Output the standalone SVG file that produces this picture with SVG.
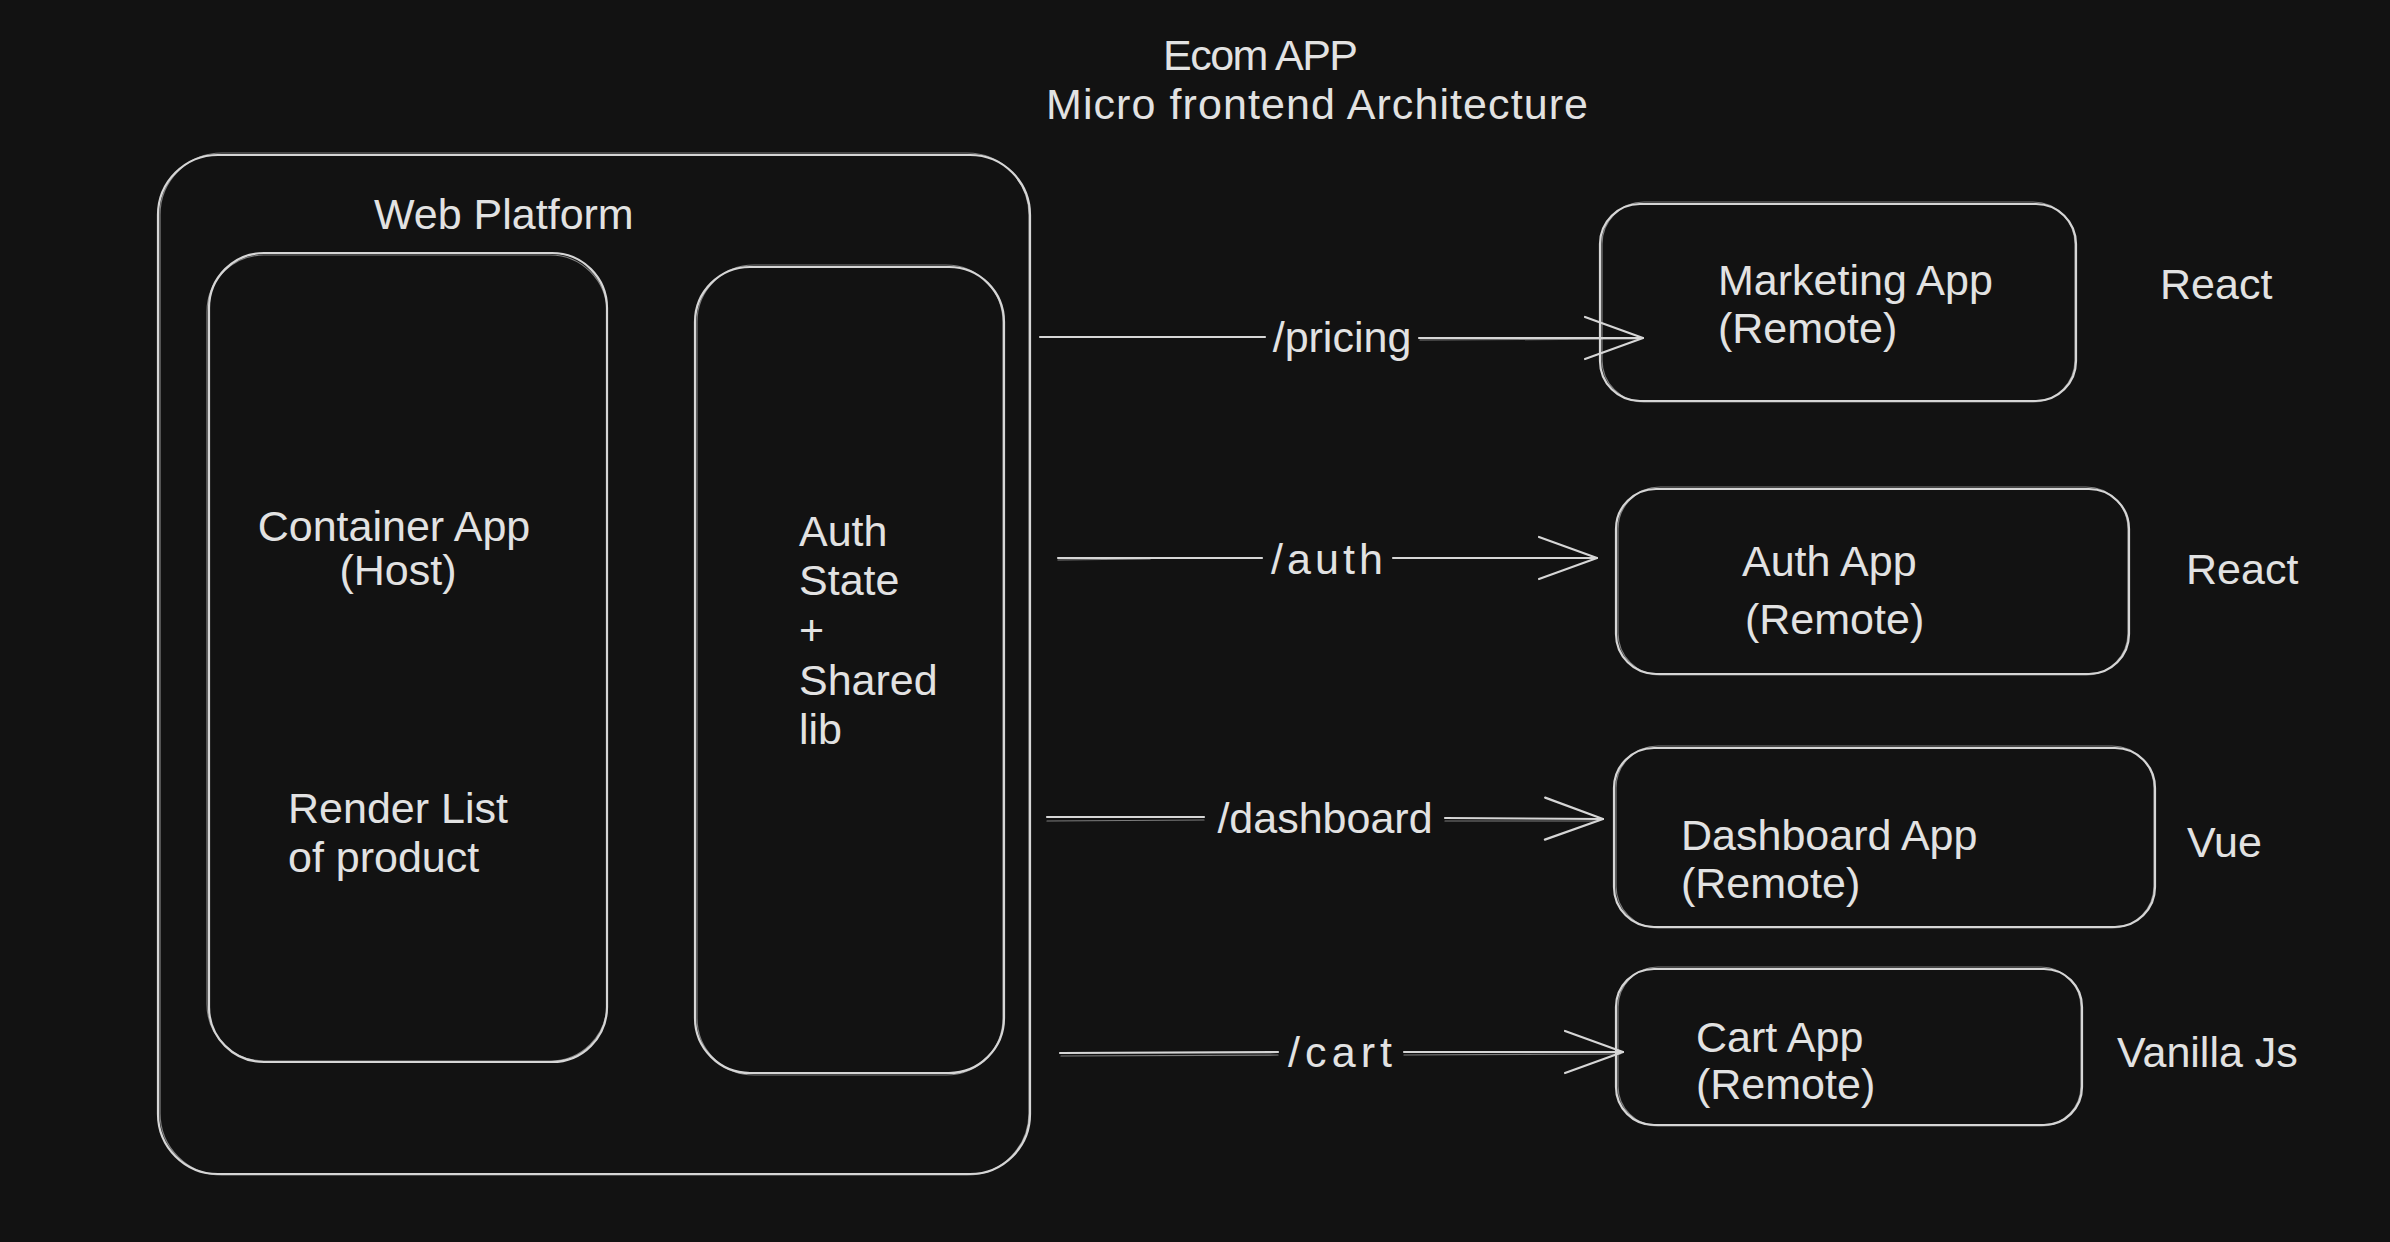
<svg xmlns="http://www.w3.org/2000/svg" width="2390" height="1242" viewBox="0 0 2390 1242">
<defs>
<style>
.bg{fill:#121212}
.box{fill:none;stroke:#d6d6d6;stroke-width:2.2}
.box2{fill:none;stroke:#d6d6d6;stroke-width:1.2;opacity:0.55}
.t{font-family:"Liberation Sans","Open Sans",sans-serif;font-size:43px;fill:#e2e2e2}
.c{text-anchor:middle}
.ln{fill:none;stroke:#d6d6d6;stroke-width:2.2;stroke-linecap:round}
.ln2{fill:none;stroke:#d6d6d6;stroke-width:1.2;opacity:0.55;stroke-linecap:round}
</style>
<marker id="arr" markerUnits="userSpaceOnUse" viewBox="-62 -26 66 52" refX="0" refY="0" markerWidth="66" markerHeight="52" orient="auto">
<path d="M -58 -21 L 0 0 L -58 21" fill="none" stroke="#d6d6d6" stroke-width="2.2" stroke-linecap="round" stroke-linejoin="round"/>
</marker>
</defs>
<rect class="bg" x="0" y="0" width="2390" height="1242"/>

<g id="title">
<text class="t" x="1163" y="70" textLength="195" lengthAdjust="spacing">Ecom APP</text>
<text class="t" x="1046" y="119" textLength="542" lengthAdjust="spacing">Micro frontend Architecture</text>
</g>

<g id="web-platform">
<rect class="box" x="158" y="155" width="872" height="1019" rx="60"/>
<rect class="box2" x="160" y="153" width="869" height="1022" rx="62"/>
<text class="t" x="374" y="229">Web Platform</text>
</g>

<g id="container-app">
<rect class="box" x="209" y="253" width="398" height="809" rx="55"/>
<rect class="box2" x="207" y="255" width="400" height="806" rx="57"/>
<text class="t c" x="394" y="541">Container App</text>
<text class="t c" x="398" y="585">(Host)</text>
<text class="t" x="288" y="823">Render List</text>
<text class="t" x="288" y="872">of product</text>
</g>

<g id="auth-state">
<rect class="box" x="695" y="267" width="309" height="806" rx="55"/>
<rect class="box2" x="697" y="265" width="306" height="810" rx="57"/>
<text class="t" x="799" y="546">Auth</text>
<text class="t" x="799" y="595">State</text>
<text class="t" x="799" y="645">+</text>
<text class="t" x="799" y="695">Shared</text>
<text class="t" x="799" y="744">lib</text>
</g>

<g id="marketing-app">
<rect class="box" x="1600" y="204" width="476" height="197" rx="40"/>
<rect class="box2" x="1602" y="202" width="473" height="200" rx="42"/>
<text class="t" x="1718" y="295">Marketing App</text>
<text class="t" x="1718" y="343">(Remote)</text>
</g>
<text class="t" x="2160" y="299">React</text>

<g id="auth-app">
<rect class="box" x="1616" y="489" width="513" height="185" rx="40"/>
<rect class="box2" x="1618" y="487" width="510" height="188" rx="42"/>
<text class="t" x="1742" y="576">Auth App</text>
<text class="t" x="1745" y="634">(Remote)</text>
</g>
<text class="t" x="2186" y="584">React</text>

<g id="dashboard-app">
<rect class="box" x="1614" y="748" width="541" height="179" rx="40"/>
<rect class="box2" x="1616" y="746" width="538" height="182" rx="42"/>
<text class="t" x="1681" y="850">Dashboard App</text>
<text class="t" x="1681" y="898">(Remote)</text>
</g>
<text class="t" x="2187" y="857">Vue</text>

<g id="cart-app">
<rect class="box" x="1616" y="969" width="466" height="156" rx="38"/>
<rect class="box2" x="1618" y="967" width="463" height="159" rx="40"/>
<text class="t" x="1696" y="1052">Cart App</text>
<text class="t" x="1696" y="1099">(Remote)</text>
</g>
<text class="t" x="2117" y="1067">Vanilla Js</text>

<g id="connectors">
<path class="ln" d="M 1040 337 L 1265 337"/>
<path class="ln" d="M 1419 338 L 1643 338" marker-end="url(#arr)"/>
<path class="ln2" d="M 1420 340 L 1640 339"/>
<text class="t c" x="1342" y="352">/pricing</text>

<path class="ln" d="M 1058 558 L 1262 558"/>
<path class="ln2" d="M 1058 560 L 1150 559"/>
<path class="ln" d="M 1393 558 L 1597 558" marker-end="url(#arr)"/>
<text class="t c" x="1327" y="574" textLength="112" lengthAdjust="spacing">/auth</text>

<path class="ln" d="M 1047 817 L 1204 817"/>
<path class="ln2" d="M 1047 821 L 1204 820"/>
<path class="ln" d="M 1445 818 L 1603 819" marker-end="url(#arr)"/>
<path class="ln2" d="M 1445 821 L 1598 821"/>
<text class="t c" x="1325" y="833">/dashboard</text>

<path class="ln" d="M 1060 1053 L 1278 1052"/>
<path class="ln2" d="M 1061 1056 L 1278 1055"/>
<path class="ln" d="M 1404 1052 L 1623 1052" marker-end="url(#arr)"/>
<path class="ln2" d="M 1404 1055 L 1620 1054"/>
<text class="t c" x="1340" y="1067" textLength="104" lengthAdjust="spacing">/cart</text>
</g>
</svg>
